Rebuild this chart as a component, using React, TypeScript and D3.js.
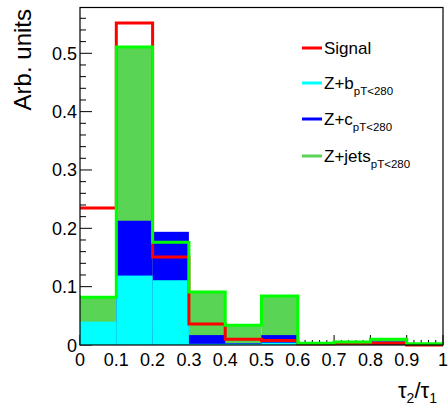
import React from 'react';
import * as d3 from 'd3';

const binEdges = [0, 0.1, 0.2, 0.3, 0.4, 0.5, 0.6, 0.7, 0.8, 0.9, 1.0];
const signal = [0.235, 0.552, 0.151, 0.036, 0.010, 0.0075, 0.002, 0.003, 0.003, 0.0];
const zjets = [0.082, 0.511, 0.176, 0.091, 0.034, 0.084, 0.003, 0.005, 0.010, 0.002];
const zc = [0.0, 0.213, 0.194, 0.017, 0.003, 0.017, 0.0, 0.0, 0.006, 0.0];
const zb = [0.040, 0.119, 0.111, 0.002, 0.002, 0.004, 0.0, 0.0, 0.001, 0.0];
const xTicks = [0, 0.1, 0.2, 0.3, 0.4, 0.5, 0.6, 0.7, 0.8, 0.9, 1];
const xTickLabels = ['0', '0.1', '0.2', '0.3', '0.4', '0.5', '0.6', '0.7', '0.8', '0.9', '1'];
const yTicks = [0, 0.1, 0.2, 0.3, 0.4, 0.5];
const yTickLabels = ['0', '0.1', '0.2', '0.3', '0.4', '0.5'];
const legendItems = [
  { label: 'Signal', sub: '', color: '#ff0000' },
  { label: 'Z+b', sub: 'pT<280', color: '#00ffff' },
  { label: 'Z+c', sub: 'pT<280', color: '#0000ff' },
  { label: 'Z+jets', sub: 'pT<280', color: '#59d454' },
];

const W = 448;
const H = 408;
const left = 80;
const right = 443;
const top = 7.5;
const bottom = 345;
const font = 'Liberation Sans, Arial, Helvetica, sans-serif';

export default function App() {
  const x = d3.scaleLinear().domain([0, 1]).range([left, right]);
  const y = d3.scaleLinear().domain([0, 0.5785]).range([bottom, top]);

  // step outline of a histogram (no verticals at the outer edges)
  const outline = (vals: number[]) => {
    const pts: [number, number][] = [];
    vals.forEach((v, i) => {
      pts.push([binEdges[i], v]);
      pts.push([binEdges[i + 1], v]);
    });
    return d3.line<[number, number]>()
      .x(d => x(d[0]))
      .y(d => y(d[1]))(pts) as string;
  };

  const bars = (vals: number[], color: string) =>
    vals.map((v, i) => (v > 0 ? (
      <rect key={i} x={x(binEdges[i])} y={y(v)} width={x(binEdges[i + 1]) - x(binEdges[i])}
        height={y(0) - y(v)} fill={color} />
    ) : null));

  const xMinor = d3.range(0, 1.0001, 0.02);
  const yMinor = d3.range(0, 0.5785, 0.02);

  return (
    <svg width={W} height={H} style={{ position: 'absolute', left: 0, top: 0, background: '#fff' }}
      fontFamily={font}>
      {/* ticks */}
      <g stroke="#000" strokeWidth={1}>
        {xMinor.map((t, i) => (
          <line key={'xm' + i} x1={x(t)} x2={x(t)} y1={bottom} y2={bottom - (i % 5 === 0 ? 10 : 5)} />
        ))}
        {yMinor.map((t, i) => (
          <line key={'ym' + i} x1={left} x2={left + (i % 5 === 0 ? 12 : 6)} y1={y(t)} y2={y(t)} />
        ))}
      </g>

      {/* histograms */}
      {bars(zjets, '#59d454')}
      {bars(zc, '#0000ff')}
      {bars(zb, '#00ffff')}
      <path d={outline(signal)} fill="none" stroke="#ff0000" strokeWidth={3} />
      <path d={outline(zjets)} fill="none" stroke="#00ff00" strokeWidth={3} />

      {/* frame */}
      <rect x={left} y={top} width={right - left} height={bottom - top} fill="none" stroke="#000" strokeWidth={1.2} />

      {/* tick labels */}
      {xTicks.map((t, i) => (
        <text key={'xl' + i} x={x(t)} y={366} textAnchor="middle" fontSize={18} fill="#000">{xTickLabels[i]}</text>
      ))}
      {yTicks.map((t, i) => (
        <text key={'yl' + i} x={77} y={y(t) + 6.5} textAnchor="end" fontSize={18} fill="#000">{yTickLabels[i]}</text>
      ))}

      {/* axis titles */}
      <text transform="translate(31,9) rotate(-90)" textAnchor="end" fontSize={24} fill="#000">Arb. units</text>
      <text x={437} y={398} textAnchor="end" fontSize={22} fill="#000">
        τ<tspan fontSize={14} dy={5}>2</tspan><tspan dy={-5}>/τ</tspan><tspan fontSize={14} dy={5}>1</tspan>
      </text>

      {/* legend */}
      {legendItems.map((it, i) => {
        const ly = [48, 83, 119, 156][i];
        return (
          <g key={'lg' + i}>
            <line x1={302} x2={322} y1={ly} y2={ly} stroke={it.color} strokeWidth={3} />
            <text x={324} y={ly + 6} fontSize={17} fill="#000">
              {it.label}
              {it.sub ? <tspan fontSize={11.5} dy={6}>{it.sub}</tspan> : null}
            </text>
          </g>
        );
      })}
    </svg>
  );
}
